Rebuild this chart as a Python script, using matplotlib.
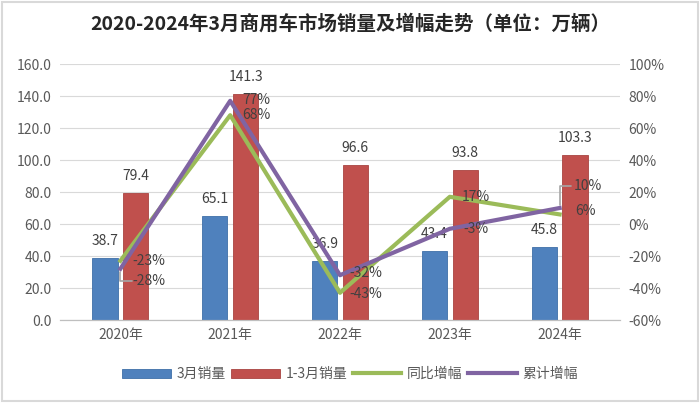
import matplotlib.pyplot as plt
import numpy as np
from matplotlib.patches import Rectangle

plt.rcParams['font.family'] = ['Noto Sans CJK SC', 'DejaVu Sans']

years = ['2020年', '2021年', '2022年', '2023年', '2024年']
march_sales = [38.7, 65.1, 36.9, 43.4, 45.8]
q1_sales = [79.4, 141.3, 96.6, 93.8, 103.3]
yoy_growth = [-23, 68, -43, 17, 6]
cum_growth = [-28, 77, -32, -3, 10]

BLUE = '#4F81BD'
RED = '#C0504D'
GREEN = '#9BBB59'
PURPLE = '#8064A2'
TXT = '#404040'

fig = plt.figure(figsize=(7, 4.03), dpi=100)
ax = fig.add_axes([60 / 700, 1 - 320 / 403, 560 / 700, 256 / 403])
ax2 = ax.twinx()

x = np.arange(len(years))
w = 0.23
off = 0.14
ax.bar(x - off, march_sales, w, color=BLUE, edgecolor='#3F6FA8', linewidth=0.6,
       label='3月销量', zorder=2)
ax.bar(x + off, q1_sales, w, color=RED, edgecolor='#A94441', linewidth=0.6,
       label='1-3月销量', zorder=2)

for xi, v in zip(x, march_sales):
    ax.annotate(f'{v:.1f}', (xi - off, v), xytext=(0, 10), textcoords='offset pixels',
                ha='center', va='bottom', fontsize=10, color=TXT)
for xi, v in zip(x, q1_sales):
    ax.annotate(f'{v:.1f}', (xi + off, v), xytext=(0, 10), textcoords='offset pixels',
                ha='center', va='bottom', fontsize=10, color=TXT)

ax.set_ylim(0, 160)
ax.set_yticks(np.arange(0, 161, 20))
ax.set_yticklabels([f'{t:.1f}' for t in np.arange(0, 161, 20)])
ax.set_xlim(-0.55, 4.55)
ax.set_xticks(x)
ax.set_xticklabels(years)
ax.grid(axis='y', color='#D9D9D9', linewidth=0.8, zorder=0)
ax.set_axisbelow(True)

ax2.plot(x, yoy_growth, color=GREEN, linewidth=3, label='同比增幅', zorder=3)
ax2.plot(x, cum_growth, color=PURPLE, linewidth=3, label='累计增幅', zorder=4)
ax2.set_ylim(-60, 100)
ax2.set_yticks(np.arange(-60, 101, 20))
ax2.set_yticklabels([f'{t}%' for t in np.arange(-60, 101, 20)])

# growth labels, mostly to the right of the point
yoy_off = [(28, 0), (26, 0), (26, -1), (26, 0), (26, 3)]
cum_off = [(28, -12), (26, 1), (26, 2), (26, 0), (28, 22)]
for xi, v, o in zip(x, yoy_growth, yoy_off):
    ax2.annotate(f'{v}%', (xi, v), xytext=o, textcoords='offset pixels',
                 ha='center', va='center', fontsize=10, color=TXT, zorder=5)
for i, (xi, v, o) in enumerate(zip(x, cum_growth, cum_off)):
    ax2.annotate(f'{v}%', (xi, v), xytext=o, textcoords='offset pixels',
                 ha='center', va='center', fontsize=10, color=TXT, zorder=5)

# leader lines for the two labels pushed away from their points
for xi, v, o in [(x[0], cum_growth[0], cum_off[0]), (x[4], cum_growth[4], cum_off[4])]:
    ax2.annotate('', (xi, v), xytext=(o[0] - 14, o[1]), textcoords='offset pixels',
                 arrowprops=dict(arrowstyle='-', color='#A6A6A6', lw=1.2,
                                 connectionstyle='angle,angleA=0,angleB=90,rad=0'))

for a in (ax, ax2):
    for s in ('top', 'left', 'right'):
        a.spines[s].set_visible(False)
    a.spines['bottom'].set_color('#BFBFBF')
    a.tick_params(length=0, labelsize=10, labelcolor='#595959')
ax.tick_params(axis='x', pad=6)
ax.tick_params(axis='y', pad=6)
ax2.tick_params(axis='y', pad=6)

h1, l1 = ax.get_legend_handles_labels()
h2, l2 = ax2.get_legend_handles_labels()
fig.legend(h1 + h2, l1 + l2, loc='center', bbox_to_anchor=(0.5, 1 - 374 / 403),
           ncol=4, frameon=False, fontsize=10, handlelength=3.5, handleheight=0.6,
           columnspacing=0.4, handletextpad=0.4, labelcolor='#595959')

fig.text(0.5, 1 - 24 / 403, '2020-2024年3月商用车市场销量及增幅走势（单位：万辆）',
         ha='center', va='center', fontsize=14, fontweight='bold', color='#262626')

fig.patches.append(Rectangle((0.003, 0.004), 0.994, 0.992, transform=fig.transFigure,
                             fill=False, edgecolor='#D9D9D9', linewidth=1.5))

fig.savefig('out.png', dpi=100)
